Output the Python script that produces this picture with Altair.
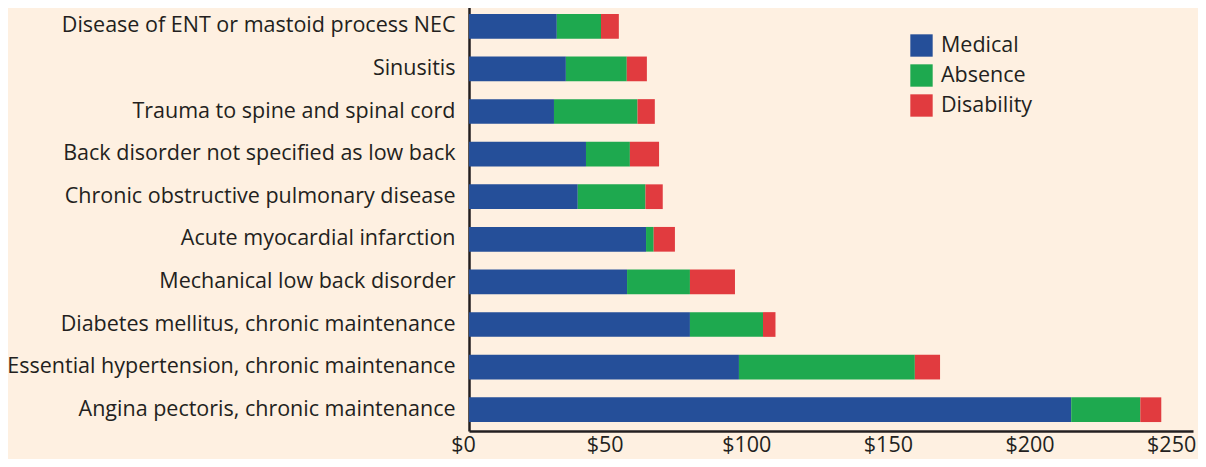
import altair as alt
import pandas as pd

categories = [
    "Disease of ENT or mastoid process NEC",
    "Sinusitis",
    "Trauma to spine and spinal cord",
    "Back disorder not specified as low back",
    "Chronic obstructive pulmonary disease",
    "Acute myocardial infarction",
    "Mechanical low back disorder",
    "Diabetes mellitus, chronic maintenance",
    "Essential hypertension, chronic maintenance",
    "Angina pectoris, chronic maintenance",
]
medical = [31.0, 34.2, 30.0, 41.3, 38.4, 62.5, 55.8, 78.0, 95.3, 212.6]
absence = [15.6, 21.5, 29.5, 15.5, 23.9, 2.7, 22.2, 25.8, 62.1, 24.4]
disability = [6.3, 7.1, 6.1, 10.3, 6.1, 7.5, 15.9, 4.4, 8.9, 7.4]
series = ["Medical", "Absence", "Disability"]
colors = ["#254F99", "#1EA94F", "#E13B3F"]
tick_values = [0, 50, 100, 150, 200, 250]

rows = []
for i, c in enumerate(categories):
    for j, (s, vals) in enumerate(zip(series, [medical, absence, disability])):
        rows.append({"Condition": c, "Type": s, "Cost": vals[i], "ord": j})
df = pd.DataFrame(rows)

FONT = "Open Sans"
DARK = "#231F20"
FS = 21.5

chart = (
    alt.Chart(df)
    .mark_bar()
    .encode(
        y=alt.Y(
            "Condition:N",
            sort=categories,
            title=None,
            scale=alt.Scale(paddingInner=0.42, paddingOuter=0.21),
            axis=alt.Axis(
                ticks=False,
                domainColor=DARK,
                domainWidth=2.5,
                labelFont=FONT,
                labelFontSize=FS,
                labelColor=DARK,
                labelPadding=14,
                labelLimit=500,
            ),
        ),
        x=alt.X(
            "Cost:Q",
            stack="zero",
            title=None,
            scale=alt.Scale(domain=[0, 255.6], nice=False),
            axis=alt.Axis(
                values=tick_values,
                labelExpr="'$' + datum.value",
                ticks=False,
                grid=False,
                domainColor=DARK,
                domainWidth=2.5,
                labelFont=FONT,
                labelFontSize=FS,
                labelColor=DARK,
                labelPadding=3,
                labelOffset=-6,
                labelFlush=False,
            ),
        ),
        color=alt.Color(
            "Type:N",
            sort=series,
            scale=alt.Scale(domain=series, range=colors),
            legend=alt.Legend(
                title=None,
                orient="none",
                legendX=441,
                legendY=29,
                symbolType="square",
                symbolSize=500,
                symbolStrokeWidth=0,
                symbolOpacity=1,
                labelFont=FONT,
                labelFontSize=FS,
                labelColor=DARK,
                labelOffset=8,
                rowPadding=7,
                padding=0,
            ),
        ),
        order=alt.Order("ord:Q"),
    )
    .properties(
        width=724,
        height=426,
        background="#FEF0E1",
        padding={"left": 461, "top": -3, "right": 5, "bottom": 28},
        autosize=alt.AutoSizeParams(type="none"),
    )
    .configure_view(stroke=None)
)

chart.save("out.html", embed_options={"renderer": "svg", "actions": False})
